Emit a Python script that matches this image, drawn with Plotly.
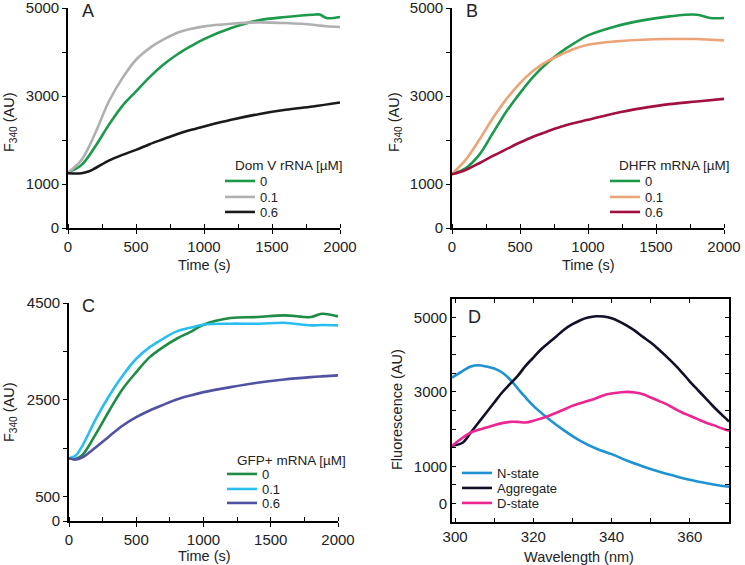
import plotly.graph_objects as go

## panel A - Dom V rRNA
t_a = [0, 100, 200, 300, 400, 500, 600, 700, 800, 900, 1000, 1200, 1400, 1600, 1800, 1850, 1900, 2000]
a_0 = [1260, 1434, 1851, 2344, 2777, 3103, 3429, 3710, 3938, 4127, 4294, 4545, 4719, 4795, 4848, 4850, 4772, 4795]
a_01 = [1260, 1548, 2155, 2875, 3407, 3824, 4089, 4279, 4431, 4522, 4582, 4643, 4674, 4658, 4620, 4600, 4585, 4567]
t_a6 = [0, 100, 150, 200, 300, 400, 500, 600, 700, 800, 900, 1000, 1200, 1400, 1600, 1800, 2000]
a_06 = [1244, 1244, 1282, 1358, 1533, 1662, 1775, 1904, 2018, 2130, 2225, 2306, 2458, 2587, 2686, 2762, 2853]

## panel B - DHFR mRNA
t_b = [0, 100, 200, 300, 400, 500, 600, 700, 800, 900, 1000, 1200, 1400, 1600, 1800, 1900, 2000]
b_0 = [1229, 1358, 1662, 2155, 2648, 3065, 3444, 3748, 3998, 4203, 4378, 4582, 4719, 4810, 4848, 4772, 4772]
b_01 = [1229, 1548, 2003, 2496, 2929, 3293, 3581, 3786, 3938, 4074, 4165, 4241, 4279, 4294, 4294, 4280, 4264]
t_b6 = [0, 100, 200, 300, 400, 500, 600, 700, 800, 900, 1000, 1200, 1400, 1600, 1800, 2000]
b_06 = [1222, 1320, 1472, 1639, 1791, 1942, 2079, 2193, 2300, 2385, 2458, 2610, 2724, 2815, 2875, 2936]

## panel C - GFP+ mRNA
t_c = [0, 50, 100, 200, 300, 400, 500, 600, 700, 800, 900, 1000, 1200, 1400, 1600, 1800, 1880, 2000]
c_0 = [1296, 1282, 1364, 1799, 2281, 2729, 3073, 3383, 3590, 3762, 3900, 4052, 4190, 4210, 4245, 4210, 4279, 4224]
c_01 = [1296, 1351, 1557, 2109, 2591, 3005, 3349, 3590, 3762, 3914, 3990, 4052, 4073, 4073, 4093, 4038, 4045, 4038]
c_06 = [1296, 1268, 1316, 1523, 1750, 1971, 2143, 2281, 2398, 2508, 2590, 2660, 2763, 2853, 2922, 2970, 2985, 3005]

## panel D - spectra
wl_n = [299.2, 302, 304, 306, 308, 310, 312, 314, 316, 318, 320, 324, 328, 332, 336, 340, 344, 348, 352, 356, 360, 364, 368, 370]
n_state = [3387, 3567, 3683, 3719, 3683, 3629, 3522, 3342, 3092, 2850, 2626, 2267, 1953, 1685, 1479, 1326, 1147, 995, 860, 744, 636, 547, 475, 448]
wl = [299.2, 302, 304, 306, 308, 310, 312, 314, 316, 318, 320, 322, 324, 326, 328, 330, 332, 334, 336, 338,
      340, 342, 344, 346, 348, 350, 352, 354, 356, 358, 360, 362, 364, 366, 368, 370]
aggregate = [1550, 1640, 1909, 2177, 2446, 2715, 2984, 3208, 3432, 3701, 3925, 4149, 4328, 4507, 4687, 4821, 4929, 5000, 5036, 5027,
             4982, 4893, 4776, 4642, 4481, 4328, 4149, 3952, 3746, 3522, 3280, 3056, 2832, 2608, 2402, 2205]
d_state = [1550, 1774, 1909, 1980, 2043, 2106, 2160, 2195, 2195, 2177, 2222, 2285, 2357, 2446, 2536, 2626, 2697, 2760, 2832, 2912,
           2957, 2984, 3002, 2984, 2939, 2850, 2760, 2670, 2554, 2446, 2357, 2267, 2177, 2106, 2025, 1953]

W, H = 745, 565
FONT = 'Liberation Sans, Arial, sans-serif'
LW = 2.6
TXT = '#222'

fig = go.Figure()
legends = {}
n_leg = [0]

def line(x, y, color, name, ax, lx, ly):
    # every trace gets its own legend so the rows can be packed like the original
    n_leg[0] += 1
    key = 'legend' if n_leg[0] == 1 else 'legend%d' % n_leg[0]
    legends[key] = dict(x=(lx - 6) / W, y=1 - ly / H, xanchor='left', yanchor='middle',
                        bgcolor='rgba(0,0,0,0)', font=dict(size=13, color=TXT, family=FONT),
                        borderwidth=0, itemwidth=30)
    fig.add_trace(go.Scatter(x=x, y=y, mode='lines', name=name, line=dict(color=color, width=LW, shape='spline'),
                             xaxis='x' + ax, yaxis='y' + ax, legend=key))

line(t_a, a_0, '#1b9a4b', '0', '', 226, 181)
line(t_a, a_01, '#b0b0b2', '0.1', '', 226, 197)
line(t_a6, a_06, '#1a1a1a', '0.6', '', 226, 212)

line(t_b, b_0, '#1b9a4b', '0', '2', 611, 181)
line(t_b, b_01, '#eba477', '0.1', '2', 611, 197)
line(t_b6, b_06, '#a3103f', '0.6', '2', 611, 212)

line(t_c, c_0, '#1f8c45', '0', '3', 228, 474)
line(t_c, c_01, '#29bdf0', '0.1', '3', 228, 489)
line(t_c, c_06, '#5252a3', '0.6', '3', 228, 503)

line(wl_n, n_state, '#1f92d2', 'N-state', '4', 463, 473)
line(wl, aggregate, '#101028', 'Aggregate', '4', 463, 488)
line(wl, d_state, '#ec2590', 'D-state', '4', 463, 503)

common = dict(tickwidth=1.3, tickcolor='black', ticklen=4, showline=True, linecolor='black', linewidth=1.6,
              showgrid=False, zeroline=False, automargin=False, ticklabeloverflow='allow',
              tickfont=dict(size=15, color=TXT))

def time_x(dom, anchor):
    return dict(common, domain=dom, anchor=anchor, range=[0, 2000], tickvals=[0, 500, 1000, 1500, 2000],
                ticks='outside',
                minor=dict(dtick=250, ticks='inside', ticklen=4, tickwidth=1.3, tickcolor='black'))

def f_y(dom, anchor, rng, vals, text):
    return dict(common, domain=dom, anchor=anchor, range=rng, tickvals=vals, ticktext=text, ticks='outside')

yvals_ab = [0, 1000, 2000, 3000, 4000, 5000]
ytext_ab = ['0', '1000', '', '3000', '', '5000']
yvals_c = [0, 500, 1500, 2500, 3500, 4500]
ytext_c = ['0', '500', '', '2500', '', '4500']

fig.update_layout(
    template='none',
    width=W, height=H, margin=dict(l=0, r=0, t=0, b=0, pad=0),
    paper_bgcolor='white', plot_bgcolor='white',
    font=dict(family=FONT, size=14, color=TXT),
    xaxis=time_x([68 / W, 340 / W], 'y'),
    yaxis=f_y([1 - 228 / H, 1 - 8 / H], 'x', [0, 5000], yvals_ab, ytext_ab),
    xaxis2=time_x([452 / W, 724 / W], 'y2'),
    yaxis2=f_y([1 - 228 / H, 1 - 8 / H], 'x2', [0, 5000], yvals_ab, ytext_ab),
    xaxis3=time_x([69 / W, 338 / W], 'y3'),
    yaxis3=f_y([1 - 521 / H, 1 - 303 / H], 'x3', [0, 4500], yvals_c, ytext_c),
    xaxis4=dict(common, domain=[452 / W, 729 / W], anchor='y4', range=[299.2, 370], tickvals=[300, 320, 340, 360],
                ticks='inside', mirror='ticks',
                minor=dict(dtick=10, tick0=300, ticks='inside', ticklen=4, tickwidth=1.3, tickcolor='black')),
    yaxis4=dict(common, domain=[1 - 522 / H, 1 - 299 / H], anchor='x4', range=[-500, 5500],
                tickvals=[0, 1000, 3000, 5000], ticks='inside', mirror='ticks',
                minor=dict(dtick=500, tick0=0, ticks='inside', ticklen=4, tickwidth=1.3, tickcolor='black')),
    showlegend=True,
    **legends,
)

# axis titles, legend titles and panel letters
ann = [
    dict(text='F<sub>340</sub> (AU)', x=10, y=122, textangle=-90),
    dict(text='F<sub>340</sub> (AU)', x=395, y=122, textangle=-90),
    dict(text='F<sub>340</sub> (AU)', x=10, y=412, textangle=-90),
    dict(text='Fluorescence (AU)', x=397, y=410, textangle=-90),
    dict(text='Time (s)', x=204, y=265),
    dict(text='Time (s)', x=588, y=265),
    dict(text='Time (s)', x=204, y=556),
    dict(text='Wavelength (nm)', x=579, y=557),
    dict(text='A', x=88, y=11, font=dict(size=18)),
    dict(text='B', x=472, y=11, font=dict(size=18)),
    dict(text='C', x=88, y=306, font=dict(size=18)),
    dict(text='D', x=474, y=317, font=dict(size=18)),
    dict(text='Dom V rRNA [µM]', x=233, y=166, xanchor='left', font=dict(size=13.5)),
    dict(text='DHFR mRNA [µM]', x=617, y=166, xanchor='left', font=dict(size=13.5)),
    dict(text='GFP+ mRNA [µM]', x=235, y=460, xanchor='left', font=dict(size=13.5)),
]
for a in ann:
    a.setdefault('font', dict(size=14.5))
    a['x'] = a['x'] / W
    a['y'] = 1 - a['y'] / H
    a.setdefault('xanchor', 'center')
    fig.add_annotation(xref='paper', yref='paper', showarrow=False, yanchor='middle', **a)

fig.write_html("out.html", config={'displayModeBar': False},
               post_script="document.body.style.margin='0';")
